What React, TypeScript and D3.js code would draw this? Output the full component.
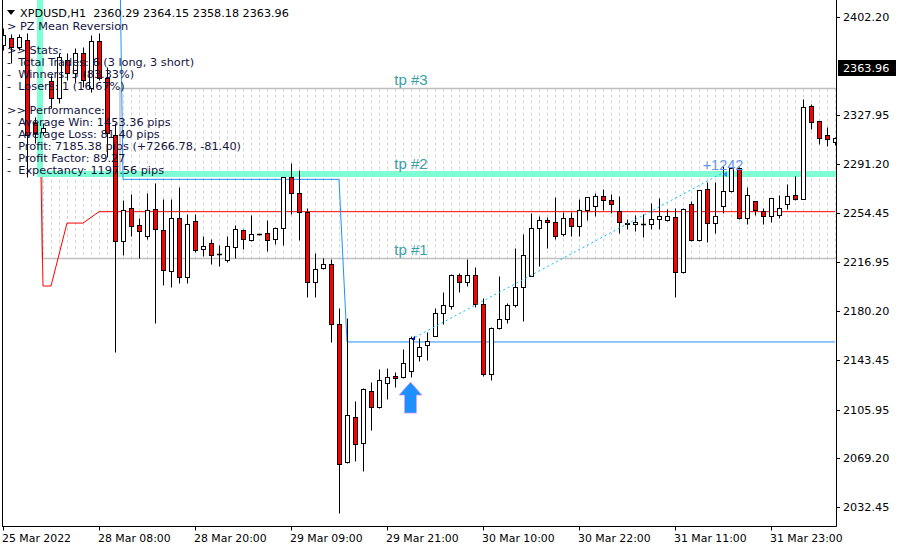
import React from 'react';
import * as d3 from 'd3';

// ---------- DATA ----------
const opens = [
  2381.1, 2386.1, 2379.8, 2384.8, 2322.0, 2315.6, 2353.9, 2340.9, 2369.8, 2359.7,
  2374.8, 2348.4, 2384.3, 2356.2, 2313.2, 2233.2, 2257.9, 2245.0, 2237.2, 2257.1,
  2241.5, 2210.8, 2250.3, 2206.2, 2248.0, 2226.9, 2231.4, 2223.4, 2218.6, 2228.9,
  2241.2, 2233.7, 2238.3, 2239.0, 2234.5, 2242.7, 2281.2, 2269.2, 2254.8, 2202.5,
  2212.6, 2215.6, 2170.3, 2066.6, 2100.6, 2080.5, 2120.0, 2107.7, 2125.8, 2131.0,
  2130.3, 2135.3, 2146.6, 2154.5, 2161.7, 2178.6, 2184.3, 2207.3, 2202.5, 2207.3,
  2185.4, 2132.6, 2167.7, 2174.1, 2184.9, 2198.2, 2206.8, 2242.7, 2248.8, 2247.3,
  2238.2, 2250.3, 2244.5, 2256.6, 2259.8, 2267.1, 2263.9, 2255.6, 2246.4, 2245.8,
  2246.3, 2246.2, 2249.5, 2248.8, 2251.0, 2210.0, 2260.9, 2233.7, 2272.2, 2246.5,
  2259.8, 2270.7, 2288.0, 2250.3, 2263.1, 2256.0, 2251.8, 2252.8, 2260.9, 2267.6,
  2264.6, 2334.8, 2323.5, 2312.9, 2308.1,
];
const highs = [
  2393.9, 2389.4, 2389.4, 2390.1, 2327.0, 2322.0, 2358.4, 2374.8, 2374.8, 2378.6,
  2379.8, 2388.6, 2389.9, 2364.5, 2322.2, 2264.1, 2268.6, 2250.3, 2269.2, 2276.7,
  2264.6, 2264.6, 2274.1, 2253.5, 2253.5, 2236.9, 2234.9, 2230.1, 2237.2, 2245.0,
  2242.2, 2252.8, 2238.6, 2249.0, 2243.9, 2281.5, 2292.3, 2286.7, 2257.8, 2223.9,
  2220.6, 2219.6, 2182.4, 2175.0, 2112.4, 2122.0, 2127.0, 2136.6, 2137.1, 2134.5,
  2151.4, 2161.3, 2159.7, 2164.3, 2182.8, 2194.4, 2208.0, 2208.8, 2219.6, 2213.3,
  2190.4, 2168.5, 2206.7, 2186.2, 2227.7, 2238.4, 2254.5, 2252.3, 2251.5, 2266.6,
  2255.3, 2255.3, 2264.9, 2266.6, 2269.2, 2272.4, 2268.6, 2267.1, 2249.5, 2252.8,
  2253.3, 2262.1, 2265.4, 2257.1, 2257.8, 2257.8, 2263.6, 2271.9, 2277.9, 2277.9,
  2289.8, 2288.8, 2288.8, 2274.1, 2263.6, 2257.8, 2265.6, 2267.9, 2275.9, 2282.2,
  2340.3, 2336.6, 2323.6, 2319.4, 2311.9,
];
const lows = [
  2377.3, 2367.7, 2377.3, 2281.5, 2306.9, 2313.2, 2333.3, 2337.1, 2354.7, 2353.4,
  2349.6, 2345.8, 2354.7, 2296.8, 2149.6, 2222.6, 2236.9, 2220.6, 2234.9, 2171.5,
  2200.0, 2198.7, 2201.2, 2201.2, 2225.1, 2221.9, 2215.6, 2214.3, 2217.5, 2220.1,
  2227.1, 2233.2, 2237.9, 2225.9, 2230.7, 2230.1, 2253.5, 2233.9, 2190.7, 2191.1,
  2212.3, 2157.2, 2027.7, 2065.6, 2067.2, 2059.8, 2090.5, 2107.4, 2113.9, 2123.2,
  2130.0, 2130.8, 2142.6, 2143.6, 2161.4, 2170.5, 2181.6, 2194.9, 2199.4, 2183.6,
  2131.5, 2128.3, 2166.8, 2171.5, 2183.6, 2172.8, 2206.5, 2214.5, 2228.1, 2234.4,
  2237.2, 2236.9, 2236.9, 2249.0, 2252.3, 2256.6, 2254.1, 2239.4, 2242.0, 2240.9,
  2236.4, 2242.4, 2242.4, 2248.6, 2190.7, 2208.8, 2233.4, 2233.5, 2232.7, 2239.4,
  2254.5, 2269.9, 2249.5, 2246.0, 2252.8, 2246.0, 2247.7, 2250.3, 2257.3, 2264.3,
  2264.5, 2317.5, 2306.4, 2304.9, 2305.6,
];
const closes = [
  2388.6, 2379.3, 2386.9, 2313.2, 2314.4, 2318.2, 2340.9, 2372.2, 2359.7, 2374.8,
  2354.7, 2384.3, 2355.9, 2314.7, 2233.2, 2256.6, 2244.7, 2240.5, 2256.6, 2242.0,
  2211.3, 2250.3, 2206.2, 2245.8, 2226.4, 2229.6, 2222.4, 2223.2, 2229.2, 2242.0,
  2234.9, 2238.2, 2238.1, 2233.7, 2242.7, 2281.2, 2269.2, 2254.8, 2202.5, 2211.8,
  2215.6, 2170.3, 2064.7, 2101.9, 2079.8, 2121.3, 2108.1, 2128.3, 2130.3, 2129.5,
  2140.9, 2159.7, 2153.4, 2157.5, 2178.6, 2184.9, 2207.3, 2202.5, 2207.3, 2185.4,
  2132.6, 2167.3, 2174.1, 2184.9, 2198.2, 2222.4, 2242.7, 2248.8, 2247.3, 2236.9,
  2250.3, 2244.5, 2256.6, 2266.1, 2267.1, 2263.9, 2260.9, 2247.3, 2246.3, 2247.3,
  2246.1, 2249.5, 2251.8, 2251.8, 2210.0, 2257.1, 2233.9, 2271.4, 2246.5, 2252.0,
  2270.7, 2288.0, 2250.3, 2267.6, 2256.6, 2251.8, 2265.4, 2257.8, 2266.9, 2264.6,
  2334.0, 2322.7, 2310.7, 2309.9, 2310.7,
];

const timeTickBars = [0, 12, 24, 36, 48, 60, 72, 84, 96];
const timeTickLabels = [
  '25 Mar 2022', '28 Mar 08:00', '28 Mar 20:00', '29 Mar 09:00', '29 Mar 21:00',
  '30 Mar 10:00', '30 Mar 22:00', '31 Mar 11:00', '31 Mar 23:00',
];
const priceTicks = [2402.2, 2327.95, 2291.2, 2254.45, 2216.95, 2180.2, 2143.45, 2105.95, 2069.2, 2032.45];
const priceTickLabels = ['2402.20', '2327.95', '2291.20', '2254.45', '2216.95', '2180.20', '2143.45', '2105.95', '2069.20', '2032.45'];
const lastPrice = 2363.96;
const lastPriceLabel = '2363.96';

const headerText = 'XPDUSD,H1  2360.29 2364.15 2358.18 2363.96';
const statsLines = [
  '> PZ Mean Reversion', '', '>> Stats:', '-  Total Trades: 6 (3 long, 3 short)',
  '-  Winners: 5 (83.33%)', '-  Losers: 1 (16.67%)', '', '>> Performance:',
  '-  Average Win: 1453.36 pips', '-  Average Loss: 81.40 pips',
  '-  Profit: 7185.38 pips (+7266.78, -81.40)', '-  Profit Factor: 89.27',
  '-  Expectancy: 1197.56 pips',
];

const tpLabels = ['tp #3', 'tp #2', 'tp #1'];
const tpPrices = [2348.6, 2283.7, 2220.3];
const bandStartBars = [14.625, 4.625, 4.9];

const meanBars = [4, 5, 6, 8, 10, 12, 104];
const meanPrices = [2530, 2199.2, 2199.2, 2246.7, 2246.7, 2255.3, 2255.3];

const stopBars = [14, 15, 42, 43, 104];
const stopPrices = [2700, 2279.7, 2279.7, 2157.0, 2157.0];

const tradeBars = [51, 90];
const tradePrices = [2160.5, 2284.7];
const tradeResult = '+1242';
const arrowBar = 51;
const arrowPrice = 2126.7;

// ---------- CHART ----------
const FONT = 'DejaVu Sans, Tahoma, sans-serif';

export default function App() {
  const PL = 2, PR = 836, PB = 526;
  const x = d3.scaleLinear().domain([0, 104]).range([3, 835]);
  const y = d3.scaleLinear().domain([2032.45, 2402.2]).range([507, 17]);
  const cx = (i: number) => Math.round(x(i)) + 0.5;
  const cy = (p: number) => Math.round(y(p)) + 0.5;

  const bars = d3.range(opens.length);
  const line = d3.line<[number, number]>().x(d => x(d[0])).y(d => y(d[1]));
  const meanPath = line(meanBars.map((b, k) => [b, meanPrices[k]] as [number, number])) || '';
  const stopPath = line(stopBars.map((b, k) => [b, stopPrices[k]] as [number, number])) || '';

  const tp3y = cy(tpPrices[0]);
  const tp2y = y(tpPrices[1]);
  const tp1y = cy(tpPrices[2]);
  const bandOutline = `M${PR},${tp3y} H${x(bandStartBars[0])} V${tp2y} M${x(bandStartBars[2])},${tp2y} V${tp1y} H${PR}`;
  const mintPath = `M${x(bandStartBars[1])},-10 V${tp2y} H${PR + 10}`;

  const ex = x(tradeBars[0]), ey = y(tradePrices[0]);
  const xx = x(tradeBars[1]), xy = y(tradePrices[1]);

  const ax = x(arrowBar) - 0.5, ay = y(arrowPrice);
  const arrowPath = `M${ax},${ay} L${ax + 11.5},${ay + 13} L${ax + 6},${ay + 13} L${ax + 6},${ay + 31} L${ax - 6},${ay + 31} L${ax - 6},${ay + 13} L${ax - 11.5},${ay + 13} Z`;

  const lpY = Math.round(y(lastPrice));

  return (
    <svg width={900} height={550} style={{ position: 'absolute', left: 0, top: 0, display: 'block', background: '#fff' }}
      fontFamily={FONT}>
      <defs>
        <clipPath id="plotClip">
          <rect x={PL + 0.5} y={0} width={PR - PL} height={PB} />
        </clipPath>
      </defs>
      <rect x={0} y={0} width={900} height={550} fill="#fff" />
      <g clipPath="url(#plotClip)">
        {/* dotted band grid */}
        {bars.filter(i => i >= 5).map(i => (
          <line key={'g' + i} x1={cx(i)} x2={cx(i)} y1={i >= 15 ? tp3y : tp2y} y2={tp1y}
            stroke="#d4d4d4" strokeWidth={1} strokeDasharray="3,3" />
        ))}
        <path d={bandOutline} fill="none" stroke="#c0c0c0" strokeWidth={1.5} />
        {/* mean line */}
        <path d={meanPath} fill="none" stroke="#ff0000" strokeWidth={1} />
        {/* tp #2 aquamarine */}
        <path d={mintPath} fill="none" stroke="#7fffd4" strokeWidth={6} strokeLinejoin="miter" />
        {/* stop line */}
        <path d={stopPath} fill="none" stroke="#1e90ff" strokeWidth={1} />
        {/* candles */}
        {bars.map(i => {
          const o = opens[i], c = closes[i];
          const X = cx(i);
          const yo = cy(o), yc = cy(c);
          const top = Math.min(yo, yc), bot = Math.max(yo, yc);
          const bear = c < o;
          return (
            <g key={'c' + i}>
              <line x1={X} x2={X} y1={cy(highs[i])} y2={cy(lows[i])} stroke="#000" strokeWidth={1} />
              {bot - top < 1 ? (
                <line x1={X - 2.5} x2={X + 2.5} y1={top} y2={top} stroke="#000" strokeWidth={1.5} />
              ) : (
                <rect x={X - 2} y={top} width={4} height={bot - top} fill={bear ? '#ff0000' : '#ffffff'} stroke="#000" strokeWidth={1} />
              )}
            </g>
          );
        })}
        {/* trade line */}
        <line x1={ex + 4} y1={ey} x2={xx} y2={xy} stroke="#00bfff" strokeWidth={1} strokeDasharray="2,3" />
        <polygon points={`${ex + 0.5},${ey + 2.7} ${ex + 4},${ey - 1.8} ${ex + 4},${ey + 2.7}`} fill="#0000cd" />
        <polygon points={`${xx},${xy + 1.5} ${xx + 4},${xy - 1.5} ${xx + 4},${xy + 4.5}`} fill="#1e90ff" />
        <text x={xx} y={xy - 2.5} textAnchor="middle" fontFamily="Liberation Sans, Arial, sans-serif" fontSize={14.5} fill="#6495ed">{tradeResult}</text>
        {/* entry arrow */}
        <path d={arrowPath} fill="#1e90ff" stroke="#d9a0f0" strokeWidth={0.8} />
        {/* tp labels */}
        {tpLabels.map((t, k) => (
          <text key={t} x={x(arrowBar)} y={y(tpPrices[k]) - (k === 1 ? 5 : 3)} textAnchor="middle"
            fontFamily="Liberation Sans, Arial, sans-serif" fontSize={15} fill="#3a9fa6">{t}</text>
        ))}
      </g>

      {/* overlay text */}
      <polygon points="7,10 15,10 11,15" fill="#000" />
      <text x={20} y={16.5} fontSize={11.2} fill="#000" style={{ whiteSpace: 'pre' }}>{headerText}</text>
      {statsLines.map((s, k) => (
        <text key={'s' + k} x={7} y={30 + k * 12} fontSize={11.3} fill="#141440" style={{ whiteSpace: 'pre' }}>{s}</text>
      ))}

      {/* frame */}
      <line x1={PL + 0.5} x2={PL + 0.5} y1={0} y2={PB + 0.5} stroke="#000" />
      <line x1={PL} x2={PR + 0.5} y1={PB + 0.5} y2={PB + 0.5} stroke="#000" />
      <line x1={PR + 0.5} x2={PR + 0.5} y1={0} y2={PB + 0.5} stroke="#000" />

      {/* price axis */}
      {priceTicks.map((p, k) => (
        <g key={'p' + k}>
          <line x1={PR + 0.5} x2={PR + 4} y1={cy(p)} y2={cy(p)} stroke="#000" />
          <text x={843} y={Math.round(y(p)) + 4} fontSize={11.2} fill="#000">{priceTickLabels[k]}</text>
        </g>
      ))}
      <rect x={838} y={lpY - 8} width={58} height={16} fill="#000" />
      <text x={843} y={lpY + 4} fontSize={11.2} fill="#fff">{lastPriceLabel}</text>

      {/* time axis */}
      {timeTickBars.map((b, k) => (
        <g key={'t' + k}>
          <line x1={cx(b)} x2={cx(b)} y1={PB + 0.5} y2={PB + 4.5} stroke="#000" />
          <text x={x(b) - 1} y={541.5} fontSize={10.9} fill="#000">{timeTickLabels[k]}</text>
        </g>
      ))}
    </svg>
  );
}
